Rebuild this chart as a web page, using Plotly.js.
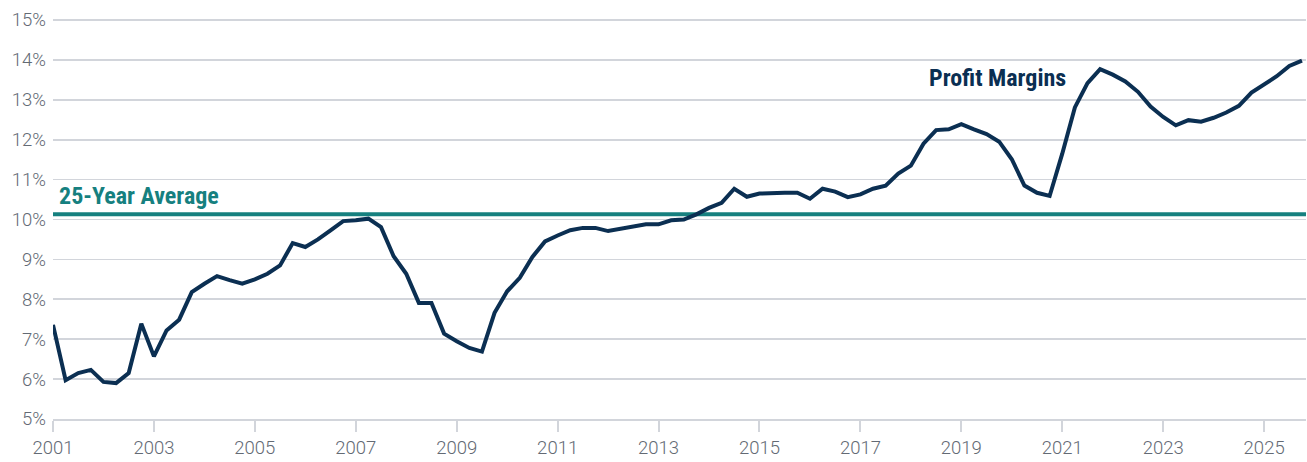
<!DOCTYPE html>
<html>
<head>
<meta charset="utf-8">
<script src="https://cdn.plot.ly/plotly-3.0.1.min.js"></script>
<style>
  html, body { margin: 0; padding: 0; background: #ffffff; }
  #chart { width: 1307px; height: 462px; }
</style>
</head>
<body>
<div id="chart"></div>
<script>
// Quarterly profit margins (%), 2001 Q1 .. 2025 Q4
const startYear = 2001;
const profitMargins = [
  7.36, 5.97, 6.15, 6.23,
  5.93, 5.90, 6.15, 7.39,
  6.57, 7.22, 7.49, 8.18,
  8.39, 8.58, 8.48, 8.39,
  8.50, 8.64, 8.85, 9.41,
  9.31, 9.50, 9.73, 9.96,
  9.98, 10.02, 9.81, 9.08,
  8.64, 7.91, 7.91, 7.14,
  6.95, 6.78, 6.69, 7.66,
  8.20, 8.54, 9.06, 9.45,
  9.60, 9.73, 9.79, 9.79,
  9.71, 9.77, 9.83, 9.88,
  9.88, 9.98, 10.00, 10.13,
  10.29, 10.42, 10.77, 10.57,
  10.65, 10.67, 10.67, 10.67,
  10.52, 10.77, 10.70, 10.56,
  10.63, 10.77, 10.85, 11.15,
  11.35, 11.90, 12.24, 12.26,
  12.39, 12.26, 12.14, 11.95,
  11.51, 10.85, 10.67, 10.59,
  11.65, 12.81, 13.42, 13.77,
  13.63, 13.46, 13.20, 12.83,
  12.57, 12.36, 12.49, 12.45,
  12.55, 12.68, 12.85, 13.18,
  13.39, 13.59, 13.85, 13.98
];
const averageMargin = 10.13;
const xTickVals = [2001, 2003, 2005, 2007, 2009, 2011, 2013, 2015, 2017, 2019, 2021, 2023, 2025];
const xTickText = ["2001", "2003", "2005", "2007", "2009", "2011", "2013", "2015", "2017", "2019", "2021", "2023", "2025"];
const yTickVals = [5, 6, 7, 8, 9, 10, 11, 12, 13, 14, 15];
const yTickText = ["5%", "6%", "7%", "8%", "9%", "10%", "11%", "12%", "13%", "14%", "15%"];
const lineLabel = "Profit Margins";
const avgLabel = "25-Year Average";

const quarters = profitMargins.map((_, i) => startYear + i * 0.25);

const navy = "#0b2f52";
const teal = "#16807f";
const grid = "#d2d5db";
const tickFont = { family: "Roboto, 'Open Sans', sans-serif", size: 18.5, color: "#636a74", weight: 300 };
const labelFontFamily = "'Liberation Sans Narrow', 'Roboto Condensed', 'DejaVu Sans Condensed', sans-serif";

const traces = [
  {
    x: [quarters[0], quarters[quarters.length - 1] + 0.1],
    y: [averageMargin, averageMargin],
    mode: "lines",
    line: { color: teal, width: 4 },
    hoverinfo: "skip",
    showlegend: false
  },
  {
    x: quarters,
    y: profitMargins,
    mode: "lines",
    line: { color: navy, width: 4, shape: "linear" },
    showlegend: false
  }
];

const layout = {
  width: 1307,
  height: 462,
  margin: { l: 53, r: 1, t: 18, b: 43, pad: 0 },
  paper_bgcolor: "#ffffff",
  plot_bgcolor: "#ffffff",
  showlegend: false,
  xaxis: {
    range: [2001, 2025.83],
    tickmode: "array",
    tickvals: xTickVals,
    ticktext: xTickText,
    showgrid: false,
    zeroline: false,
    showline: true,
    linecolor: grid,
    linewidth: 2,
    ticks: "outside",
    ticklen: 11,
    tickwidth: 2,
    tickcolor: grid,
    tickfont: tickFont
  },
  yaxis: {
    range: [5, 15.05],
    tickmode: "array",
    tickvals: yTickVals,
    ticktext: yTickText,
    showgrid: true,
    gridcolor: grid,
    gridwidth: 1.6,
    zeroline: false,
    showline: false,
    ticks: "",
    ticklabelstandoff: 6,
    tickfont: tickFont
  },
  annotations: [
    {
      text: "<b>" + avgLabel + "</b>",
      xref: "x", yref: "y",
      x: 2001.08, y: 10.6,
      xanchor: "left", yanchor: "middle",
      showarrow: false,
      font: { family: labelFontFamily, size: 24, color: teal }
    },
    {
      text: "<b>" + lineLabel + "</b>",
      xref: "x", yref: "y",
      x: 2018.31, y: 13.54,
      xanchor: "left", yanchor: "middle",
      showarrow: false,
      font: { family: labelFontFamily, size: 24, color: navy }
    }
  ]
};

Plotly.newPlot("chart", traces, layout, { displayModeBar: false, staticPlot: true });
</script>
</body>
</html>
